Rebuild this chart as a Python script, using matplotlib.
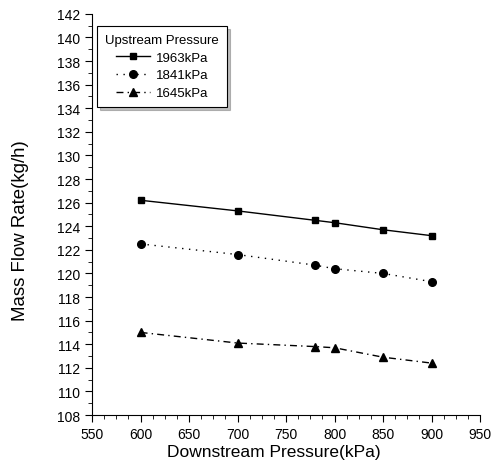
import matplotlib.pyplot as plt
from matplotlib.ticker import MultipleLocator

plt.rcParams['font.family'] = ['Liberation Sans', 'DejaVu Sans']

# downstream pressure (kPa)
pressure = [600, 700, 780, 800, 850, 900]

# mass flow rate (kg/h) per upstream pressure
flow_1963 = [126.2, 125.3, 124.5, 124.3, 123.7, 123.2]
flow_1841 = [122.5, 121.6, 120.7, 120.4, 120.0, 119.3]
flow_1645 = [115.0, 114.1, 113.8, 113.7, 112.9, 112.4]

labels = ["1963kPa", "1841kPa", "1645kPa"]

fig = plt.figure(figsize=(4.98, 4.64), dpi=100)
ax = fig.add_axes([0.185, 0.1034, 0.779, 0.8646])

ax.plot(pressure, flow_1963, c="black", lw=1, ls="-", marker="s", ms=5, label=labels[0])
ax.plot(pressure, flow_1841, c="black", lw=1, ls=(0, (1, 4)), marker="o", ms=5.5, label=labels[1])
ax.plot(pressure, flow_1645, c="black", lw=1, ls=(0, (5, 3, 1, 3)), marker="^", ms=6, label=labels[2])

ax.set_xlim(550, 950)
ax.set_ylim(108, 142)
ax.xaxis.set_major_locator(MultipleLocator(50))
ax.xaxis.set_minor_locator(MultipleLocator(12.5))
ax.yaxis.set_major_locator(MultipleLocator(2))
ax.yaxis.set_minor_locator(MultipleLocator(1))

ax.spines["top"].set_visible(False)
ax.spines["right"].set_visible(False)
ax.tick_params(axis="both", which="major", direction="out", length=5, labelsize=10)
ax.tick_params(axis="both", which="minor", direction="out", length=3)

ax.set_xlabel("Downstream Pressure(kPa)", fontsize=12.5, labelpad=2, x=0.469)
ax.set_ylabel("Mass Flow Rate(kg/h)", fontsize=13.4, labelpad=20, y=0.461)

leg = ax.legend(title="Upstream Pressure", loc="upper left", bbox_to_anchor=(0.013, 0.97),
                borderaxespad=0, fancybox=False,
                shadow={"ox": 2, "oy": -2, "alpha": 0.35},
                fontsize=9.5, title_fontsize=9.5,
                handlelength=2.6, handletextpad=0.4, labelspacing=0.42, borderpad=0.6)
leg.get_frame().set_edgecolor("black")
leg.get_frame().set_linewidth(0.8)

plt.savefig("out.png", dpi=100)
